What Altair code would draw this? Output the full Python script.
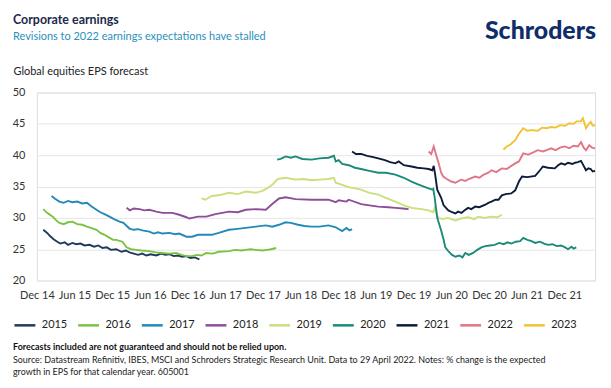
import altair as alt
import pandas as pd

SERIES = ["2015", "2016", "2017", "2018", "2019", "2020", "2021", "2022", "2023"]
COLORS = ["#1f3a5c", "#7cc242", "#2389b9", "#8c4f97", "#c9e07c",
          "#1a8b78", "#0d1c38", "#e07686", "#f1c232"]

D2015 = ["2015-01-01", "2015-01-20", "2015-02-03", "2015-02-20", "2015-03-10", "2015-03-25",
         "2015-04-15", "2015-05-01", "2015-05-22", "2015-06-10", "2015-07-01", "2015-07-20",
         "2015-08-13", "2015-09-05", "2015-09-25", "2015-10-15", "2015-11-05", "2015-11-25",
         "2015-12-21", "2016-01-15", "2016-02-05", "2016-02-23", "2016-03-15", "2016-04-05",
         "2016-04-25", "2016-05-15", "2016-06-05", "2016-07-02", "2016-07-25", "2016-08-15",
         "2016-09-03", "2016-09-25", "2016-10-15", "2016-11-05", "2016-11-25", "2016-12-15",
         "2017-01-05", "2017-01-27"]
V2015 = [28.1, 27.6, 27.1, 26.6, 26.2, 25.9, 26.1, 25.7, 26.0, 25.8, 25.9, 25.6,
         25.7, 25.4, 25.6, 25.2, 25.3, 24.9, 25.0, 24.6, 24.8, 24.5, 24.3, 24.1,
         24.3, 24.0, 24.2, 24.0, 24.3, 24.1, 24.2, 23.9, 24.0, 23.8, 23.9, 23.6,
         23.7, 23.4]

D2016 = ["2015-01-01", "2015-01-20", "2015-02-16", "2015-03-05", "2015-03-20", "2015-04-10",
         "2015-05-01", "2015-05-22", "2015-06-15", "2015-07-09", "2015-08-01", "2015-08-20",
         "2015-09-16", "2015-10-05", "2015-10-25", "2015-11-15", "2015-12-05", "2015-12-21",
         "2016-01-20", "2016-02-09", "2016-03-01", "2016-03-27", "2016-04-20", "2016-05-29",
         "2016-07-01", "2016-08-01", "2016-09-01", "2016-10-06", "2016-11-01", "2016-11-25",
         "2016-12-23", "2017-01-15", "2017-02-06", "2017-03-01", "2017-04-01", "2017-05-01",
         "2017-06-19", "2017-07-20", "2017-08-20", "2017-09-09", "2017-10-01", "2017-10-27",
         "2017-11-28", "2017-12-20", "2018-01-10", "2018-02-03"]
V2016 = [31.4, 30.8, 30.2, 29.6, 29.2, 29.0, 29.3, 29.4, 29.0, 28.9, 28.6, 28.4,
         28.1, 27.6, 27.3, 26.9, 26.5, 26.5, 26.2, 25.3, 25.0, 24.9, 24.8, 24.7,
         24.5, 24.4, 24.3, 24.4, 24.1, 23.9, 23.9, 24.1, 24.0, 24.4, 24.3, 24.6,
         24.7, 24.9, 24.8, 24.9, 25.0, 24.9, 24.8, 24.9, 25.0, 25.2]

D2017 = ["2015-02-10", "2015-03-01", "2015-03-20", "2015-04-10", "2015-05-01", "2015-05-22",
         "2015-06-15", "2015-07-09", "2015-08-01", "2015-08-20", "2015-09-16", "2015-10-05",
         "2015-10-25", "2015-11-18", "2015-12-10", "2016-01-06", "2016-01-25", "2016-02-10",
         "2016-02-23", "2016-03-15", "2016-04-05", "2016-04-25", "2016-05-29", "2016-06-20",
         "2016-07-10", "2016-08-01", "2016-09-03", "2016-10-01", "2016-10-21", "2016-11-25",
         "2016-12-23", "2017-01-20", "2017-03-01", "2017-03-28", "2017-05-01", "2017-06-19",
         "2017-07-20", "2017-09-09", "2017-10-27", "2017-12-15", "2018-01-15", "2018-02-17",
         "2018-03-21", "2018-04-15", "2018-05-20", "2018-06-20", "2018-07-25", "2018-09-01",
         "2018-10-15", "2018-11-19", "2018-12-20", "2019-01-10", "2019-01-25", "2019-02-06"]
V2017 = [33.5, 33.0, 32.6, 32.4, 32.7, 32.5, 32.6, 32.3, 32.4, 31.9, 31.3, 30.9,
         30.6, 30.2, 29.8, 29.4, 29.2, 28.7, 28.3, 28.1, 28.2, 28.0, 27.8, 27.5,
         27.7, 27.5, 27.6, 27.4, 27.5, 27.0, 27.0, 27.3, 27.3, 27.3, 27.6, 28.1,
         28.2, 28.4, 28.6, 28.8, 28.6, 28.9, 29.3, 29.2, 28.9, 28.7, 28.6, 28.6,
         28.8, 28.5, 27.9, 28.4, 28.0, 28.2]

D2018 = ["2016-02-09", "2016-02-25", "2016-03-15", "2016-04-11", "2016-05-05", "2016-05-29",
         "2016-07-02", "2016-08-01", "2016-09-18", "2016-10-21", "2016-11-25", "2016-12-09",
         "2016-12-23", "2017-01-20", "2017-03-01", "2017-04-15", "2017-06-19", "2017-08-01",
         "2017-09-09", "2017-10-27", "2017-12-15", "2018-01-15", "2018-02-17", "2018-03-21",
         "2018-05-08", "2018-07-25", "2018-09-15", "2018-10-15", "2018-11-19", "2018-12-03",
         "2019-01-10", "2019-01-21", "2019-03-22", "2019-05-01", "2019-06-13", "2019-08-01",
         "2019-09-04", "2019-10-10", "2019-11-07"]
V2018 = [31.6, 31.2, 31.5, 31.4, 31.2, 31.3, 31.0, 30.8, 30.8, 30.5, 30.1, 29.9,
         30.0, 30.2, 30.2, 30.6, 31.0, 30.9, 31.3, 31.4, 31.3, 32.2, 33.1, 33.3,
         33.0, 32.9, 32.9, 32.9, 32.5, 32.8, 32.6, 32.9, 32.2, 32.0, 31.8, 31.7,
         31.6, 31.5, 31.4]

D2019 = ["2017-02-06", "2017-02-25", "2017-03-28", "2017-05-01", "2017-06-19", "2017-08-01",
         "2017-09-09", "2017-10-27", "2017-11-28", "2017-12-20", "2018-01-15", "2018-02-10",
         "2018-03-21", "2018-05-08", "2018-06-15", "2018-07-25", "2018-09-01", "2018-10-15",
         "2018-11-10", "2018-11-19", "2018-12-10", "2019-01-21", "2019-03-22", "2019-05-01",
         "2019-06-13", "2019-07-20", "2019-09-04", "2019-10-15", "2019-11-21", "2020-01-10",
         "2020-02-12", "2020-03-05", "2020-03-12", "2020-03-25", "2020-04-01", "2020-04-20",
         "2020-05-15", "2020-06-21", "2020-07-18", "2020-08-22", "2020-09-20", "2020-10-10",
         "2020-11-10", "2020-12-10", "2021-01-10", "2021-02-01"]
V2019 = [33.1, 32.9, 33.5, 33.6, 34.0, 33.8, 34.2, 34.0, 34.3, 34.7, 35.3, 36.2,
         36.4, 36.1, 36.2, 36.0, 36.1, 36.2, 36.4, 35.6, 35.4, 34.9, 34.5, 34.0,
         33.7, 33.2, 32.6, 32.0, 31.6, 31.4, 31.2, 30.9, 31.6, 30.4, 30.0, 29.8,
         30.0, 29.6, 29.9, 30.1, 29.8, 30.2, 30.0, 30.2, 30.1, 30.5]

D2020 = ["2018-02-08", "2018-02-25", "2018-03-21", "2018-04-15", "2018-05-08", "2018-06-10",
         "2018-07-25", "2018-09-01", "2018-10-15", "2018-11-10", "2018-11-19", "2018-12-03",
         "2018-12-20", "2019-01-21", "2019-02-20", "2019-03-22", "2019-05-01", "2019-06-13",
         "2019-07-20", "2019-09-04", "2019-10-15", "2019-11-21", "2019-12-20", "2020-01-20",
         "2020-02-12", "2020-03-03", "2020-03-06", "2020-03-12", "2020-03-25", "2020-04-13",
         "2020-04-25", "2020-05-03", "2020-05-20", "2020-06-05", "2020-06-21", "2020-07-10",
         "2020-07-25", "2020-08-08", "2020-08-25", "2020-09-15", "2020-10-05", "2020-10-25",
         "2020-11-13", "2020-12-05", "2020-12-28", "2021-01-20", "2021-02-10", "2021-03-01",
         "2021-03-19", "2021-04-10", "2021-05-01", "2021-05-16", "2021-06-05", "2021-06-25",
         "2021-07-13", "2021-08-05", "2021-08-25", "2021-09-13", "2021-10-05", "2021-10-25",
         "2021-11-15", "2021-12-05", "2021-12-19", "2022-01-05", "2022-01-15", "2022-01-28"]
V2020 = [39.3, 39.4, 39.8, 39.6, 39.8, 39.4, 39.3, 39.5, 39.6, 39.9, 39.0, 39.2,
         38.6, 38.4, 38.0, 37.8, 37.5, 37.2, 37.2, 36.9, 36.4, 35.8, 35.4, 35.0,
         34.7, 34.5, 34.6, 33.4, 30.0, 28.0, 26.5, 25.3, 24.6, 24.1, 23.8, 24.0,
         23.7, 24.4, 24.1, 24.4, 24.9, 25.3, 25.5, 25.6, 25.7, 26.0, 25.8, 26.1,
         25.9, 26.2, 26.3, 26.8, 26.5, 26.3, 26.0, 26.2, 25.9, 25.7, 25.8, 25.5,
         25.6, 25.3, 25.0, 25.4, 25.1, 25.3]

D2021 = ["2019-02-06", "2019-02-25", "2019-03-22", "2019-04-20", "2019-05-20", "2019-06-13",
         "2019-07-15", "2019-08-10", "2019-09-04", "2019-09-20", "2019-10-15", "2019-11-21",
         "2019-12-20", "2020-01-20", "2020-02-12", "2020-03-01", "2020-03-08", "2020-03-15",
         "2020-03-25", "2020-04-13", "2020-04-25", "2020-05-18", "2020-06-05", "2020-06-21",
         "2020-07-04", "2020-07-20", "2020-08-08", "2020-08-22", "2020-09-06", "2020-09-25",
         "2020-10-15", "2020-11-13", "2020-11-28", "2020-12-13", "2021-01-01", "2021-01-16",
         "2021-02-01", "2021-02-20", "2021-03-19", "2021-04-07", "2021-04-25", "2021-05-10",
         "2021-06-05", "2021-07-13", "2021-08-05", "2021-08-19", "2021-09-13", "2021-10-16",
         "2021-11-01", "2021-11-16", "2021-12-04", "2021-12-19", "2022-01-10", "2022-01-22",
         "2022-02-05", "2022-02-20", "2022-03-05", "2022-03-16", "2022-03-28", "2022-04-08",
         "2022-04-18", "2022-04-29"]
V2021 = [40.6, 40.2, 40.2, 39.9, 39.7, 39.5, 39.2, 38.9, 38.7, 39.0, 38.4, 38.2,
         38.0, 37.9, 37.8, 37.6, 38.3, 36.9, 34.5, 33.2, 32.0, 31.2, 30.9, 30.7,
         31.0, 30.8, 31.3, 31.6, 31.4, 31.8, 31.7, 32.1, 32.4, 32.6, 32.9, 32.9,
         33.6, 33.8, 33.9, 34.4, 35.8, 36.6, 36.5, 36.7, 37.6, 38.2, 38.0, 37.9,
         38.4, 38.7, 38.5, 38.8, 38.6, 38.8, 38.9, 39.1, 38.3, 37.6, 37.9, 37.8,
         37.4, 37.5]

D2022 = ["2020-02-12", "2020-02-25", "2020-03-08", "2020-03-20", "2020-04-01", "2020-04-13",
         "2020-04-23", "2020-05-10", "2020-06-01", "2020-06-21", "2020-07-18", "2020-08-08",
         "2020-08-25", "2020-09-25", "2020-10-15", "2020-11-05", "2020-11-28", "2020-12-13",
         "2021-01-05", "2021-02-01", "2021-02-25", "2021-03-19", "2021-04-07", "2021-04-25",
         "2021-05-16", "2021-06-10", "2021-07-01", "2021-07-25", "2021-08-20", "2021-09-13",
         "2021-09-28", "2021-10-20", "2021-11-10", "2021-12-04", "2021-12-25", "2022-01-15",
         "2022-02-05", "2022-02-20", "2022-03-05", "2022-03-16", "2022-04-01", "2022-04-15",
         "2022-04-29"]
V2022 = [40.6, 40.2, 41.4, 40.0, 38.7, 37.2, 36.6, 36.2, 35.8, 35.6, 36.1, 35.9,
         36.2, 36.6, 36.4, 36.9, 37.2, 37.6, 37.3, 37.9, 37.8, 38.3, 38.7, 39.0,
         40.3, 40.1, 40.4, 40.8, 40.6, 40.9, 41.1, 40.8, 41.2, 41.4, 41.1, 41.5,
         41.4, 42.1, 41.2, 40.8, 41.6, 41.2, 41.1]

D2023 = ["2021-02-09", "2021-02-25", "2021-03-15", "2021-04-07", "2021-04-25", "2021-05-16",
         "2021-06-05", "2021-06-25", "2021-07-25", "2021-08-15", "2021-09-05", "2021-09-28",
         "2021-10-20", "2021-11-10", "2021-12-04", "2021-12-25", "2022-01-15", "2022-01-30",
         "2022-02-20", "2022-03-01", "2022-03-10", "2022-03-16", "2022-03-28", "2022-04-08",
         "2022-04-18", "2022-04-29"]
V2023 = [40.9, 41.4, 41.7, 42.4, 43.4, 44.3, 43.9, 44.0, 43.9, 44.4, 44.3, 44.5,
         44.4, 44.8, 44.7, 45.1, 45.0, 45.4, 45.4, 45.9, 45.0, 44.3, 44.9, 45.3,
         44.7, 44.8]

Y_TICKS = [20, 25, 30, 35, 40, 45, 50]
X_TICKS = [(2014, 12), (2015, 6), (2015, 12), (2016, 6), (2016, 12), (2017, 6), (2017, 12),
           (2018, 6), (2018, 12), (2019, 6), (2019, 12), (2020, 6), (2020, 12), (2021, 6),
           (2021, 12)]

TITLE = "Corporate earnings"
SUBTITLE = "Revisions to 2022 earnings expectations have stalled"
Y_TITLE = "Global equities EPS forecast"
LOGO = "Schroders"
NOTE_BOLD = "Forecasts included are not guaranteed and should not be relied upon."
NOTE_1 = ("Source: Datastream Refinitiv, IBES, MSCI and Schroders Strategic Research Unit. "
          "Data to 29 April 2022. Notes: % change is the expected")
NOTE_2 = "growth in EPS for that calendar year. 605001"

series_data = [("2015", D2015, V2015), ("2016", D2016, V2016), ("2017", D2017, V2017),
               ("2018", D2018, V2018), ("2019", D2019, V2019), ("2020", D2020, V2020),
               ("2021", D2021, V2021), ("2022", D2022, V2022), ("2023", D2023, V2023)]
rows = []
for name, ds, vs in series_data:
    for d, v in zip(ds, vs):
        rows.append({"date": d, "eps": v, "series": name})
df = pd.DataFrame(rows)
df["date"] = pd.to_datetime(df["date"])

FONT = "Lato"

x_axis = alt.Axis(
    values=[alt.DateTime(year=y, month=m, date=1) for y, m in X_TICKS],
    format="%b %y", title=None, grid=False, domain=False, ticks=False, tickSize=0,
    labelPadding=9, labelFont=FONT, labelFontSize=11, labelColor="#333333",
    labelOverlap=False, labelFlush=False,
)
y_axis = alt.Axis(
    values=Y_TICKS, grid=True, gridColor="#e6e6e6", gridWidth=1, domain=False,
    ticks=False, tickSize=0, labelPadding=12, labelFont=FONT, labelFontSize=11,
    labelColor="#333333", title=Y_TITLE, titleAngle=0, titleAlign="left",
    titleBaseline="middle", titleX=-24, titleY=-21, titleFont=FONT, titleFontSize=11,
    titleFontWeight="normal", titleColor="#222222",
)

lines = alt.Chart(df).mark_line(strokeWidth=1.9).encode(
    x=alt.X("date:T", axis=x_axis,
            scale=alt.Scale(domain=[alt.DateTime(year=2014, month=12, date=1),
                                    alt.DateTime(year=2022, month=4, date=29)])),
    y=alt.Y("eps:Q", axis=y_axis, scale=alt.Scale(domain=[20, 50], nice=False, zero=False)),
    color=alt.Color("series:N", scale=alt.Scale(domain=SERIES, range=COLORS),
                    legend=alt.Legend(orient="none", legendX=-24, legendY=222,
                                      direction="horizontal", title=None,
                                      symbolType="stroke", symbolSize=441,
                                      symbolStrokeWidth=2.5, labelFont=FONT,
                                      labelFontSize=11, labelColor="#222222",
                                      labelOffset=5, columnPadding=5)),
    order=alt.Order("date:T"),
)

one = pd.DataFrame({"k": [0]})


def txt(text, x, y, size, color, weight="normal", align="left", font=FONT):
    return alt.Chart(one).mark_text(
        text=text, align=align, baseline="middle", font=font, fontSize=size,
        fontWeight=weight, color=color,
    ).encode(x=alt.value(x), y=alt.value(y))


texts = [
    txt(TITLE, -24, -73, 12.5, "#1b2a4a", "bold"),
    txt(SUBTITLE, -24, -56, 11, "#2a8fbd"),
    txt(LOGO, 562, -62, 25, "#0f2e68", 900, align="right"),
    txt(NOTE_BOLD, -24, 256, 9, "#111111", "bold"),
    txt(NOTE_1, -24, 269, 9, "#222222"),
    txt(NOTE_2, -24, 281, 9, "#222222"),
]

chart = alt.layer(lines, *texts).properties(
    width=561, height=189,
    padding={"left": 29, "top": 84, "right": 8, "bottom": 100},
    autosize=alt.AutoSizeParams(type="none"),
).configure_view(stroke=None).configure(background="white")

chart.save("out.html", embed_options={"renderer": "svg", "actions": False})
